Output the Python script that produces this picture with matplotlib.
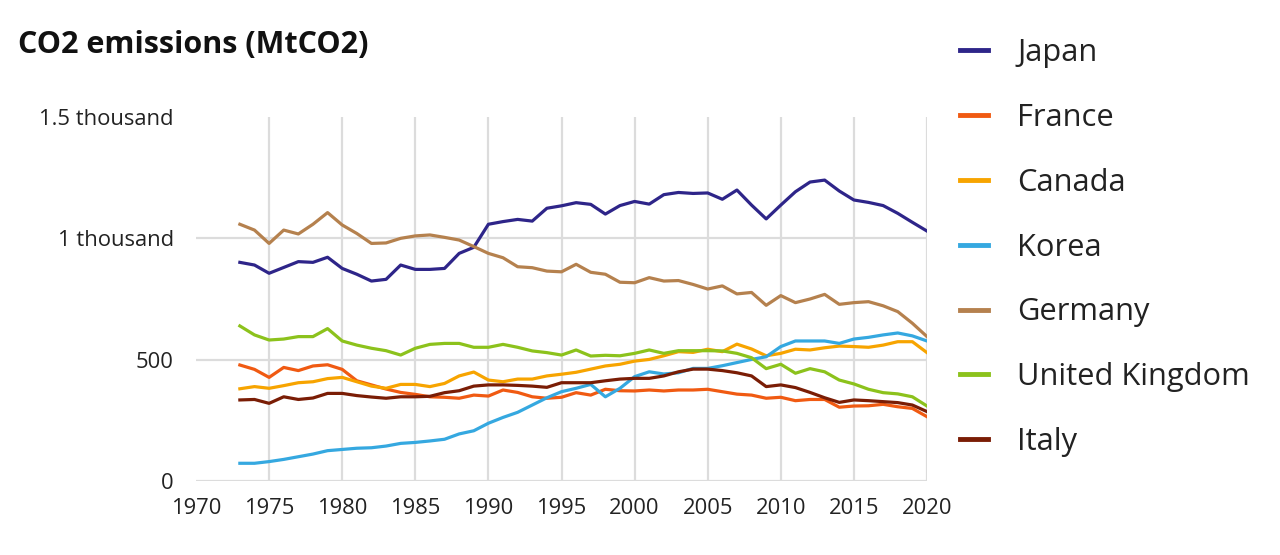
import matplotlib
matplotlib.use("Agg")
from matplotlib import pyplot as plt
import numpy as np

plt.rcParams['font.family'] = ['Open Sans', 'DejaVu Sans']

years = np.arange(1973, 2021)

japan = [901, 890, 856, 880, 904, 901, 922, 876, 852, 824, 831, 890, 872, 872, 876, 938,
         963, 1058, 1069, 1078, 1071, 1124, 1134, 1147, 1140, 1100, 1135, 1152, 1141, 1180,
         1189, 1185, 1187, 1161, 1199, 1137, 1080, 1137, 1192, 1232, 1240, 1195, 1158, 1148,
         1135, 1103, 1066, 1030]
france = [478, 460, 427, 468, 455, 474, 479, 460, 413, 396, 379, 365, 357, 347, 345, 341,
          354, 350, 375, 365, 347, 341, 345, 364, 354, 378, 372, 371, 375, 371, 375, 375,
          378, 368, 358, 354, 341, 345, 331, 336, 336, 304, 309, 310, 316, 306, 299, 265]
canada = [380, 389, 382, 393, 405, 409, 422, 427, 409, 391, 382, 398, 398, 389, 402, 433,
          449, 416, 409, 420, 420, 433, 440, 448, 461, 474, 481, 494, 501, 516, 533, 530,
          543, 533, 564, 544, 516, 526, 543, 540, 549, 556, 554, 551, 560, 574, 574, 529]
korea = [73, 73, 80, 89, 100, 111, 125, 130, 135, 137, 144, 155, 159, 165, 172, 194,
         207, 238, 262, 283, 313, 343, 368, 382, 398, 347, 382, 430, 450, 441, 446, 464,
         464, 475, 488, 501, 512, 554, 577, 577, 577, 567, 585, 592, 602, 610, 598, 577]
germany = [1058, 1034, 979, 1034, 1018, 1058, 1106, 1055, 1020, 979, 981, 1000, 1010, 1014,
           1004, 993, 966, 938, 920, 883, 879, 865, 862, 893, 860, 852, 819, 817, 838, 824,
           826, 810, 791, 804, 771, 777, 724, 764, 735, 750, 769, 728, 735, 739, 722, 698,
           650, 595]
uk = [639, 602, 581, 585, 595, 595, 628, 577, 560, 547, 537, 519, 547, 563, 567, 567,
      551, 551, 563, 551, 536, 529, 519, 540, 515, 518, 516, 526, 540, 526, 537, 537,
      537, 536, 526, 508, 463, 481, 444, 463, 450, 416, 400, 378, 364, 359, 347, 309]
italy = [334, 336, 320, 347, 336, 342, 361, 361, 352, 346, 341, 347, 347, 349, 364, 372,
         391, 396, 396, 394, 391, 386, 405, 405, 405, 413, 420, 423, 423, 433, 450, 461,
         461, 455, 446, 433, 389, 396, 385, 365, 343, 324, 334, 331, 327, 323, 313, 286]

names = ['Japan', 'France', 'Canada', 'Korea', 'Germany', 'United Kingdom', 'Italy']
series = [japan, france, canada, korea, germany, uk, italy]
colors = ['#2e2589', '#f05a12', '#f7a400', '#35a8e0', '#b5814e', '#8cc21c', '#7a1d05']

fig = plt.figure(figsize=(12.8, 5.55), dpi=100)
ax = fig.add_axes([196 / 1280, 1 - 481 / 555, (927 - 196) / 1280, (481 - 117) / 555])

grid_c = '#dcdcdc'
for x in range(1975, 2021, 5):
    ax.axvline(x, color=grid_c, lw=1.6, zorder=0)
for y in [0, 500, 1000]:
    ax.axhline(y, color=grid_c, lw=1.6, zorder=0)

lines = []
for name, vals, c in zip(names, series, colors):
    ln, = ax.plot(years, vals, color=c, lw=2.3, label=name, solid_joinstyle='round')
    lines.append(ln)

ax.set_xlim(1970, 2020)
ax.set_ylim(0, 1500)
ax.set_xticks(range(1970, 2021, 5))
ax.set_yticks([0, 500, 1000, 1500])
ax.set_yticklabels(['0', '500', '1 thousand', '1.5 thousand'])
ax.tick_params(axis='both', length=0, labelsize=15.8, colors='#222222')
ax.tick_params(axis='y', pad=16)
ax.tick_params(axis='x', pad=12.5)
for s in ax.spines.values():
    s.set_visible(False)

fig.text(18 / 1280, 1 - 53 / 555, 'CO2 emissions (MtCO2)', fontsize=22,
         fontweight='bold', color='#111111', va='baseline')

leg = fig.legend(handles=lines, loc='upper left', bbox_to_anchor=(960 / 1280, 1 - 38 / 555),
                 frameon=False, fontsize=22.2, handlelength=0.9, handletextpad=0.95,
                 labelspacing=1.13, borderaxespad=0, borderpad=0)
for h in leg.get_lines():
    h.set_linewidth(3.5)
for t in leg.get_texts():
    t.set_color('#222222')

plt.savefig('out.png', dpi=100)
